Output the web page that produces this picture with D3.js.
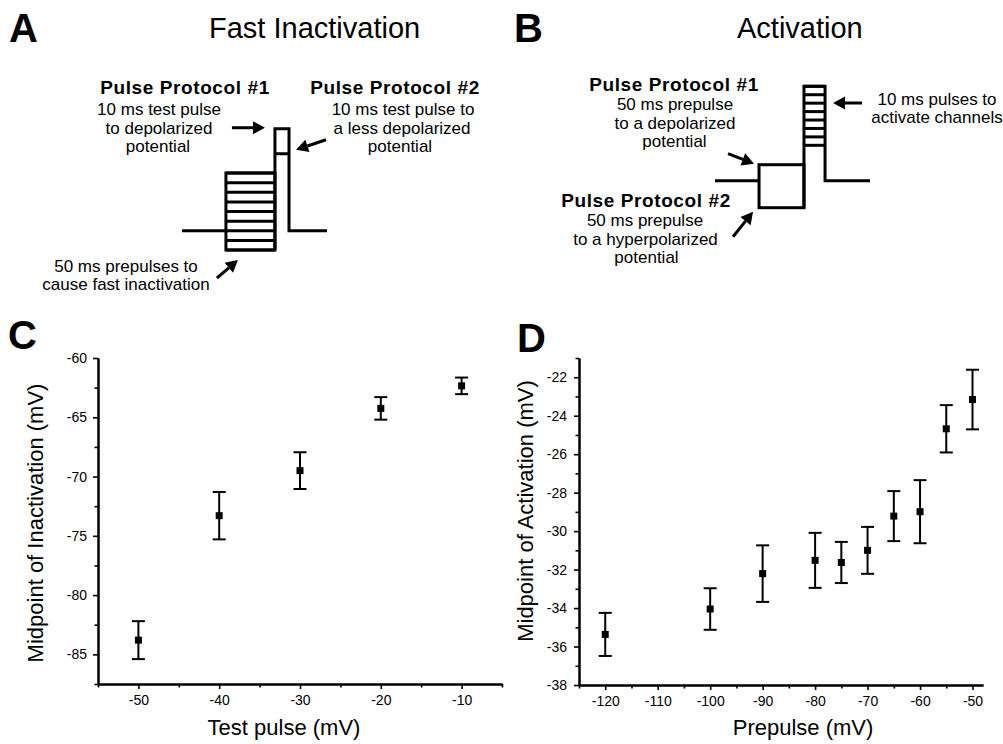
<!DOCTYPE html>
<html>
<head>
<meta charset="utf-8">
<script src="https://cdn.jsdelivr.net/npm/d3@7"></script>
<style>
  body { margin: 0; background: #fff; }
  svg text { font-family: "Liberation Sans", Arial, Helvetica, sans-serif; fill: #000; }
  .axis .domain { stroke: #000; stroke-width: 2; }
  .axis .tick line { stroke: #000; stroke-width: 1.6; }
  .axis .tick text { font-size: 14px; }
</style>
</head>
<body>
<svg id="viz" width="1003" height="744"></svg>
<script>
// ---- panel C data (fast inactivation) ----
const cTestPulse = [-50, -40, -30, -20, -10];
const cMidpoint  = [-83.8, -73.3, -69.5, -64.25, -62.35];
const cError     = [1.6, 2.0, 1.55, 0.95, 0.7];
const cXTicks = [-50, -40, -30, -20, -10];
const cXMinor = [-55, -45, -35, -25, -15, -5];
const cYTicks = [-85, -80, -75, -70, -65, -60];
const cYMinor = [-87.5, -82.5, -77.5, -72.5, -67.5, -62.5];

// ---- panel D data (activation) ----
const dPrepulse = [-120, -100, -90, -80, -75, -70, -65, -60, -55, -50];
const dMidpoint = [-35.37, -34.05, -32.21, -31.52, -31.63, -31.0, -29.22, -28.99, -24.68, -23.16];
const dError    = [1.12, 1.08, 1.47, 1.43, 1.07, 1.22, 1.3, 1.64, 1.23, 1.55];
const dXTicks = [-120, -110, -100, -90, -80, -70, -60, -50];
const dXMinor = [-125, -115, -105, -95, -85, -75, -65, -55];
const dYTicks = [-38, -36, -34, -32, -30, -28, -26, -24, -22];
const dYMinor = [-37, -35, -33, -31, -29, -27, -25, -23, -21];

// ---- protocol schematics (schematic units, not data) ----
const aPreLevels = [0, 1, 2, 3, 4, 5, 6, 7, 8];
const aHold = 2, aTest1 = 12.6, aTest2 = 10;
const bTestLevels = [7.4, 8.4, 9.4, 10.4, 11.4, 12.4, 13.4, 14.4];
const bHold = 3.2, bDepol = 5.1, bHyper = 0;

var svg = d3.select('#viz');

/******************** panel letters and titles ********************/
[['A', 9, 42], ['B', 514, 42], ['C', 8, 349], ['D', 517, 352]].forEach(function(p){
  svg.append('text').attr('x', p[1]).attr('y', p[2])
     .style('font-size', '40px').style('font-weight', 'bold').text(p[0]);
});
svg.append('text').attr('x', 209).attr('y', 38).style('font-size', '29px').text('Fast Inactivation');
svg.append('text').attr('x', 737).attr('y', 38).style('font-size', '29px').text('Activation');

/******************** helpers ********************/
function arrow(g, x1, y1, x2, y2) {
  var ang = Math.atan2(y2 - y1, x2 - x1);
  var hl = 12, hw = 6.5;
  var bx = x2 - hl * Math.cos(ang), by = y2 - hl * Math.sin(ang);
  g.append('line').attr('x1', x1).attr('y1', y1).attr('x2', bx).attr('y2', by)
   .attr('stroke', '#000').attr('stroke-width', 3);
  var px = -Math.sin(ang), py = Math.cos(ang);
  g.append('polygon')
   .attr('points', [[x2, y2], [bx + px * hw, by + py * hw], [bx - px * hw, by - py * hw]].map(function(p){ return p.join(','); }).join(' '))
   .attr('fill', '#000');
}

function label(g, x, y, txt, bold) {
  var t = g.append('text').attr('x', x).attr('y', y).attr('text-anchor', 'middle').text(txt);
  if (bold) t.style('font-size', '19px').style('font-weight', 'bold').style('letter-spacing', '0.6px');
  else t.style('font-size', '17px');
}

/******************** panel A schematic ********************/
var gA = svg.append('g');
var aX = d3.scaleLinear().domain([0, 100]).range([182, 327]);
var aY = d3.scaleLinear().domain([0, 8]).range([250, 173]);
var aT = { pre: 30.3, test: 64.1, testEnd: 73.8 };

gA.append('line').attr('x1', aX(0)).attr('x2', aX(aT.pre)).attr('y1', aY(aHold)).attr('y2', aY(aHold))
  .attr('stroke', '#000').attr('stroke-width', 3);
gA.append('rect').attr('x', aX(aT.pre)).attr('y', aY(8))
  .attr('width', aX(aT.test) - aX(aT.pre)).attr('height', aY(0) - aY(8))
  .attr('fill', 'none').attr('stroke', '#000').attr('stroke-width', 3);
gA.selectAll('line.lvl').data(aPreLevels).enter().append('line').attr('class', 'lvl')
  .attr('x1', aX(aT.pre)).attr('x2', aX(aT.test))
  .attr('y1', function(d){ return aY(d); }).attr('y2', function(d){ return aY(d); })
  .attr('stroke', '#000').attr('stroke-width', 3);
gA.append('path')
  .attr('d', 'M' + aX(aT.test) + ',' + aY(0) + 'V' + aY(aTest1) + 'H' + aX(aT.testEnd) +
             'V' + aY(aHold) + 'H' + aX(100))
  .attr('fill', 'none').attr('stroke', '#000').attr('stroke-width', 3);
gA.append('line').attr('x1', aX(aT.test)).attr('x2', aX(aT.testEnd))
  .attr('y1', aY(aTest2)).attr('y2', aY(aTest2)).attr('stroke', '#000').attr('stroke-width', 3);

arrow(gA, aX(aT.test) - 43, aY(aTest1) - 1, aX(aT.test) - 10, aY(aTest1) - 1);
arrow(gA, aX(aT.testEnd) + 37, aY(aTest2) - 14, aX(aT.testEnd) + 7, aY(aTest2) - 4);
arrow(gA, aX(aT.pre) - 9, aY(0) + 28, aX(aT.pre) + 12, aY(0) + 10);

label(gA, 185, 94, 'Pulse Protocol #1', true);
label(gA, 159, 115, '10 ms test pulse');
label(gA, 159, 133.5, 'to depolarized');
label(gA, 158, 152, 'potential');
label(gA, 395, 94, 'Pulse Protocol #2', true);
label(gA, 403, 115, '10 ms test pulse to');
label(gA, 402, 133.5, 'a less depolarized');
label(gA, 400, 152, 'potential');
label(gA, 126, 272, '50 ms prepulses to');
label(gA, 126, 290, 'cause fast inactivation');

/******************** panel B schematic ********************/
var gB = svg.append('g');
var bX = d3.scaleLinear().domain([0, 100]).range([715, 870]);
var bY = d3.scaleLinear().domain([0, 14.4]).range([207.7, 86.3]);
var bT = { pre: 28.4, test: 57.4, testEnd: 71 };

gB.append('line').attr('x1', bX(0)).attr('x2', bX(bT.pre)).attr('y1', bY(bHold)).attr('y2', bY(bHold))
  .attr('stroke', '#000').attr('stroke-width', 3);
gB.append('rect').attr('x', bX(bT.pre)).attr('y', bY(bDepol))
  .attr('width', bX(bT.test) - bX(bT.pre)).attr('height', bY(bHyper) - bY(bDepol))
  .attr('fill', 'none').attr('stroke', '#000').attr('stroke-width', 3);
gB.append('path')
  .attr('d', 'M' + bX(bT.test) + ',' + bY(bHyper) + 'V' + bY(14.4) + 'H' + bX(bT.testEnd) +
             'V' + bY(bHold) + 'H' + bX(100))
  .attr('fill', 'none').attr('stroke', '#000').attr('stroke-width', 3);
gB.selectAll('line.lvl').data(bTestLevels).enter().append('line').attr('class', 'lvl')
  .attr('x1', bX(bT.test)).attr('x2', bX(bT.testEnd))
  .attr('y1', function(d){ return bY(d); }).attr('y2', function(d){ return bY(d); })
  .attr('stroke', '#000').attr('stroke-width', 3);

arrow(gB, bX(bT.testEnd) + 37, 103, bX(bT.testEnd) + 8, 103);
arrow(gB, bX(bT.pre) - 31, bY(bDepol) - 11, bX(bT.pre) - 5, bY(bDepol) - 1);
arrow(gB, bX(bT.pre) - 26, bY(bHyper) + 29, bX(bT.pre) - 6, bY(bHyper) + 4);

label(gB, 674, 91, 'Pulse Protocol #1', true);
label(gB, 675, 110, '50 ms prepulse');
label(gB, 675, 128.5, 'to a depolarized');
label(gB, 674.5, 147, 'potential');
label(gB, 646, 207, 'Pulse Protocol #2', true);
label(gB, 645, 226, '50 ms prepulse');
label(gB, 645.5, 244.5, 'to a hyperpolarized');
label(gB, 646.5, 263, 'potential');
label(gB, 937, 105, '10 ms pulses to');
label(gB, 937, 122.5, 'activate channels');

/******************** scatter panels ********************/
// plain hyphen minus, as in the original figure
var plain = function(d){ return String(d); };

function scatterPanel(cfg) {
  var x = d3.scaleLinear().domain(cfg.xDomain).range(cfg.xRange);
  var y = d3.scaleLinear().domain(cfg.yDomain).range(cfg.yRange);
  var y0 = cfg.yRange[0], x0 = cfg.xRange[0];
  var g = svg.append('g');

  // minor ticks first, then major axis
  g.append('g').attr('class', 'axis').attr('transform', 'translate(0,' + y0 + ')')
   .call(d3.axisBottom(x).tickValues(cfg.xMinor).tickSize(3.5).tickSizeOuter(0).tickFormat(''));
  g.append('g').attr('class', 'axis').attr('transform', 'translate(' + x0 + ',0)')
   .call(d3.axisLeft(y).tickValues(cfg.yMinor).tickSize(3.5).tickSizeOuter(0).tickFormat(''));
  g.append('g').attr('class', 'axis').attr('transform', 'translate(0,' + y0 + ')')
   .call(d3.axisBottom(x).tickValues(cfg.xTicks).tickSize(5).tickPadding(6).tickSizeOuter(0).tickFormat(plain));
  g.append('g').attr('class', 'axis').attr('transform', 'translate(' + x0 + ',0)')
   .call(d3.axisLeft(y).tickValues(cfg.yTicks).tickSize(5).tickPadding(cfg.yPad).tickSizeOuter(0).tickFormat(plain));

  var pts = cfg.xs.map(function(v, i){ return { x: v, y: cfg.ys[i], e: cfg.es[i] }; });
  var cap = 6.5, sq = 7;
  var bars = g.selectAll('g.pt').data(pts).enter().append('g').attr('class', 'pt');
  bars.append('line')
      .attr('x1', function(d){ return x(d.x); }).attr('x2', function(d){ return x(d.x); })
      .attr('y1', function(d){ return y(d.y + d.e); }).attr('y2', function(d){ return y(d.y - d.e); })
      .attr('stroke', '#000').attr('stroke-width', 2);
  [1, -1].forEach(function(s){
    bars.append('line')
        .attr('x1', function(d){ return x(d.x) - cap; }).attr('x2', function(d){ return x(d.x) + cap; })
        .attr('y1', function(d){ return y(d.y + s * d.e); }).attr('y2', function(d){ return y(d.y + s * d.e); })
        .attr('stroke', '#000').attr('stroke-width', 2);
  });
  bars.append('rect')
      .attr('x', function(d){ return x(d.x) - sq / 2; }).attr('y', function(d){ return y(d.y) - sq / 2; })
      .attr('width', sq).attr('height', sq).attr('fill', '#000');

  g.append('text').attr('x', cfg.xLabelX).attr('y', 735).attr('text-anchor', 'middle')
   .style('font-size', '22px').text(cfg.xLabel);
  g.append('text').attr('transform', 'translate(' + cfg.yLabelX + ',' + cfg.yLabelY + ') rotate(-90)')
   .attr('text-anchor', 'middle').style('font-size', '22px').text(cfg.yLabel);
}

scatterPanel({
  xs: cTestPulse, ys: cMidpoint, es: cError,
  xDomain: [-55, -5], xRange: [98, 502],
  yDomain: [-87.5, -60], yRange: [684, 358],
  xTicks: cXTicks, xMinor: cXMinor, yTicks: cYTicks, yMinor: cYMinor, yPad: 6,
  xLabel: 'Test pulse (mV)', xLabelX: 284,
  yLabel: 'Midpoint of Inactivation (mV)', yLabelX: 43, yLabelY: 523
});

scatterPanel({
  xs: dPrepulse, ys: dMidpoint, es: dError,
  xDomain: [-125, -48], xRange: [579, 983],
  yDomain: [-38, -21], yRange: [685, 358],
  xTicks: dXTicks, xMinor: dXMinor, yTicks: dYTicks, yMinor: dYMinor, yPad: 7,
  xLabel: 'Prepulse (mV)', xLabelX: 803,
  yLabel: 'Midpoint of Activation (mV)', yLabelX: 533, yLabelY: 511
});
</script>
</body>
</html>
